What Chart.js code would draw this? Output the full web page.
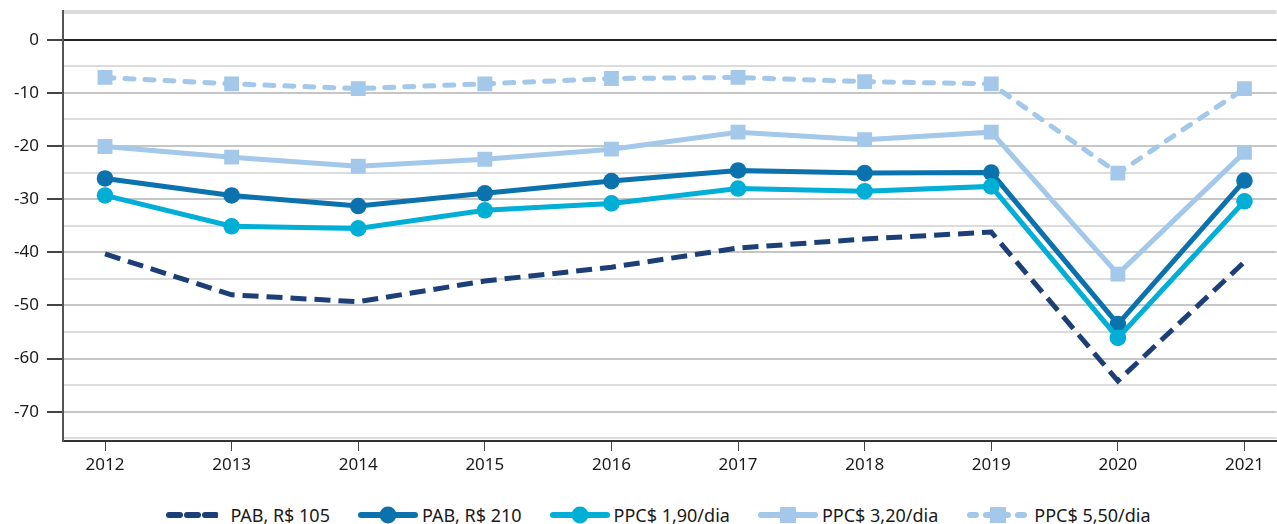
<!DOCTYPE html>
<html>
<head>
<meta charset="utf-8">
<script src="https://cdn.jsdelivr.net/npm/chart.js@4"></script>
<style>
  body { margin: 0; background: #fff; font-family: "Noto Sans", sans-serif; overflow: hidden; }
  #wrap { position: relative; width: 1277px; height: 524px; overflow: hidden; }
  #box { position: absolute; left: 0; top: 0; width: 1287px; height: 490px; }
  #legend {
    position: absolute; left: 0; top: 503px; width: 1277px; height: 24px;
    display: flex; justify-content: center; align-items: center;
    padding-left: 40px; box-sizing: border-box;
    font-size: 18px; color: #1a1a1a;
  }
  .item { display: flex; align-items: center; margin: 0 14px; white-space: nowrap; }
  .item svg { margin-right: 4px; }
  .item.first svg { margin-right: 12px; }
</style>
</head>
<body>
<div id="wrap">
  <div id="box"><canvas id="chart"></canvas></div>
  <div id="legend"></div>
</div>
<script>
// =========================================
// DATA
// =========================================

const years = [2012, 2013, 2014, 2015, 2016, 2017, 2018, 2019, 2020, 2021];

const pab105 = [-40.3, -48.0, -49.3, -45.4, -42.8, -39.2, -37.5, -36.2, -64.2, -41.8];
const pab210 = [-26.1, -29.3, -31.3, -28.9, -26.6, -24.6, -25.1, -25.0, -53.5, -26.5];
const ppc190 = [-29.3, -35.1, -35.5, -32.1, -30.8, -28.0, -28.5, -27.6, -56.1, -30.4];
const ppc320 = [-20.1, -22.1, -23.8, -22.5, -20.6, -17.4, -18.8, -17.4, -44.1, -21.2];
const ppc550 = [-7.1, -8.3, -9.2, -8.3, -7.3, -7.1, -7.9, -8.3, -25.1, -9.2];

const seriesLabels = ["PAB, R$ 105", "PAB, R$ 210", "PPC$ 1,90/dia", "PPC$ 3,20/dia", "PPC$ 5,50/dia"];
const yTickLabels = [0, -10, -20, -30, -40, -50, -60, -70];


// =========================================
// STYLES
// =========================================

const navy = "#1c3f77";
const blue = "#0b72ad";
const cyan = "#00aed6";
const light = "#a3c8ea";

function pts(values) {
  return values.map((v, i) => ({ x: years[i], y: v }));
}

const datasets = [
  {
    label: seriesLabels[0], data: pts(pab105),
    borderColor: navy, borderWidth: 5, borderDash: [16, 8],
    pointRadius: 0, order: 5
  },
  {
    label: seriesLabels[1], data: pts(pab210),
    borderColor: blue, backgroundColor: blue, borderWidth: 5,
    pointStyle: "circle", pointRadius: 8.3, pointBackgroundColor: blue,
    pointBorderWidth: 0, order: 2
  },
  {
    label: seriesLabels[2], data: pts(ppc190),
    borderColor: cyan, backgroundColor: cyan, borderWidth: 5,
    pointStyle: "circle", pointRadius: 8.3, pointBackgroundColor: cyan,
    pointBorderWidth: 0, order: 1
  },
  {
    label: seriesLabels[3], data: pts(ppc320),
    borderColor: light, backgroundColor: light, borderWidth: 5,
    pointStyle: "rect", pointRadius: 10.5, pointBackgroundColor: light,
    pointBorderWidth: 0, order: 3
  },
  {
    label: seriesLabels[4], data: pts(ppc550),
    borderColor: light, backgroundColor: light, borderWidth: 5,
    borderDash: [9, 11], borderCapStyle: "round",
    pointStyle: "rect", pointRadius: 10.5, pointBackgroundColor: light,
    pointBorderWidth: 0, order: 4
  }
];


// =========================================
// CHART
// =========================================

new Chart(document.getElementById("chart"), {
  type: "line",
  data: { datasets: datasets },
  options: {
    responsive: true,
    maintainAspectRatio: false,
    animation: false,
    layout: { padding: { top: 11, right: 0, left: 0, bottom: 0 } },
    plugins: { legend: { display: false }, tooltip: { enabled: false } },
    elements: { line: { tension: 0 } },
    scales: {
      x: {
        type: "linear",
        min: 2011.668,
        max: 2021.253,
        afterBuildTicks: (scale) => {
          scale.ticks = years.map(y => ({ value: y }));
        },
        afterFit: (scale) => {
          scale.height = 49;
        },
        grid: {
          drawOnChartArea: false,
          drawTicks: true,
          tickLength: 10,
          tickColor: "#444",
          tickWidth: 1
        },
        border: { color: "#333", width: 2 },
        ticks: {
          color: "#1a1a1a",
          font: { family: "Noto Sans", size: 17 },
          padding: 4,
          callback: (v) => String(v)
        }
      },
      y: {
        min: -75.5,
        max: 5.4,
        afterBuildTicks: (scale) => {
          const t = [];
          for (let v = -75; v <= 5; v += 5) t.push({ value: v });
          t.push({ value: 5.4 });
          scale.ticks = t;
        },
        afterFit: (scale) => {
          scale.width = 63;
          scale.paddingTop = 0;
          scale.paddingBottom = 0;
        },
        grid: {
          color: (ctx) => {
            const v = ctx.tick.value;
            if (v === 0) return "#222";
            if (v % 10 === 0) return "#c6c6c6";
            return "#dcdcdc";
          },
          lineWidth: 2,
          tickLength: 16,
          tickColor: (ctx) => (yTickLabels.includes(ctx.tick.value) ? "#444" : "rgba(0,0,0,0)"),
          tickWidth: 2
        },
        border: { color: "#555", width: 2 },
        ticks: {
          color: "#1a1a1a",
          font: { family: "Noto Sans", size: 17 },
          padding: 8,
          callback: (v) => (yTickLabels.includes(v) ? String(v) : "")
        }
      }
    }
  }
});


// =========================================
// LEGEND
// =========================================

const swatches = [
  '<svg width="52" height="18"><line x1="3" y1="9" x2="50" y2="9" stroke="' + navy + '" stroke-width="6" stroke-linecap="round" stroke-dasharray="11 7"/></svg>',
  '<svg width="60" height="18"><line x1="3" y1="9" x2="57" y2="9" stroke="' + blue + '" stroke-width="6" stroke-linecap="round"/><circle cx="30" cy="9" r="8.5" fill="' + blue + '"/></svg>',
  '<svg width="60" height="18"><line x1="3" y1="9" x2="57" y2="9" stroke="' + cyan + '" stroke-width="6" stroke-linecap="round"/><circle cx="30" cy="9" r="8.5" fill="' + cyan + '"/></svg>',
  '<svg width="60" height="18"><line x1="3" y1="9" x2="57" y2="9" stroke="' + light + '" stroke-width="6" stroke-linecap="round"/><rect x="22" y="1" width="16" height="16" fill="' + light + '"/></svg>',
  '<svg width="64" height="18"><line x1="4" y1="9" x2="60" y2="9" stroke="' + light + '" stroke-width="6" stroke-linecap="round" stroke-dasharray="6 10"/><rect x="24" y="1" width="16" height="16" fill="' + light + '"/></svg>'
];

document.getElementById("legend").innerHTML = seriesLabels.map((label, i) =>
  '<div class="item' + (i === 0 ? ' first' : '') + '">' + swatches[i] + '<span>' + label + '</span></div>'
).join("");
</script>
</body>
</html>
